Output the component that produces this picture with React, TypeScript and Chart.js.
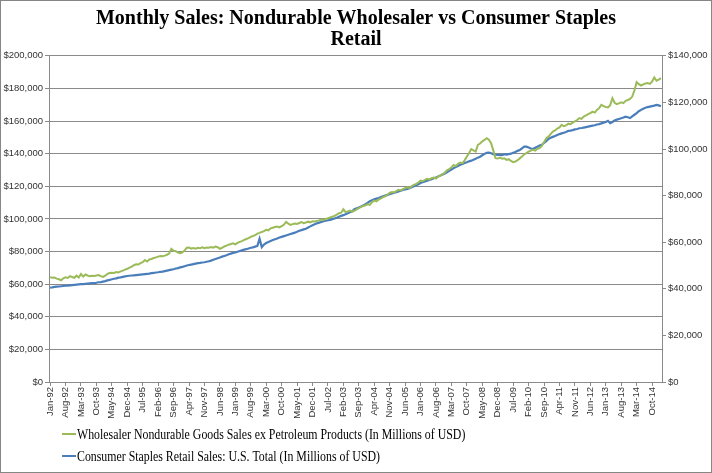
import { useEffect, useRef } from 'react';
import { Chart, registerables } from 'chart.js';

Chart.register(...registerables);

const TITLE = ['Monthly Sales: Nondurable Wholesaler vs Consumer Staples', 'Retail'];
const SERIES_NAMES = [
  'Wholesaler Nondurable Goods Sales ex Petroleum Products (In Millions of USD)',
  'Consumer Staples Retail Sales: U.S. Total (In Millions of USD)',
];
const MONTH_NAMES = ['Jan', 'Feb', 'Mar', 'Apr', 'May', 'Jun', 'Jul', 'Aug', 'Sep', 'Oct', 'Nov', 'Dec'];
const FIRST_YEAR = 1992;
const LABEL_EVERY = 7;

// Left axis (millions of USD), Jan-92 .. Feb-15, one row per year
const wholesaleSales = [
  64300, 63900, 64100, 63400, 63000, 62400, 63600, 64200, 63800, 64900, 64400, 63900,
  65200, 64100, 66200, 64600, 65900, 65300, 64900, 65200, 65000, 65300, 65600, 64900,
  64400, 65200, 66300, 66800, 67000, 66900, 67400, 67200, 67800, 68300, 68900, 69400,
  70100, 70800, 71600, 72200, 72000, 72900, 73500, 74800, 73900, 75100, 75400, 76000,
  76400, 76900, 77300, 77100, 77500, 78000, 78800, 81600, 80500, 80200, 79400, 79000,
  79500, 80700, 82300, 82400, 81800, 82100, 81700, 82300, 82000, 82600, 82100, 82500,
  82300, 82800, 82400, 83000, 82600, 81700, 82300, 83100, 83600, 84200, 84600, 85000,
  84400, 85300, 85900, 86400, 87100, 87700, 88200, 89000, 89500, 90100, 91000, 91400,
  92000, 92500, 93300, 93000, 94200, 94600, 95000, 95300, 94800, 95600, 96400, 98200,
  97100, 96300, 96800, 97200, 96900, 97500, 98000, 97400, 97800, 98300, 97900, 98600,
  98400, 98800, 99100, 99600, 99300, 100000, 100400, 100900, 101300, 101900, 102600, 103500,
  103800, 105900, 104200, 104600, 105100, 104400, 105000, 105800, 106600, 107400, 107900, 108400,
  109000, 108600, 110300, 111200, 110700, 111900, 112600, 113400, 113900, 114800, 115900, 116500,
  116200, 117000, 117800, 117400, 118300, 118900, 119400, 119000, 120100, 120800, 121500, 122300,
  123500, 123100, 124000, 124600, 124200, 125000, 125400, 124800, 126000, 126600, 127500, 128300,
  129800, 130500, 131600, 133100, 132400, 133800, 134600, 134200, 135900, 138200, 140400, 142800,
  142000, 141300, 145400, 146200, 147600, 148400, 149500, 148600, 146400, 142000, 137200, 137000,
  137600, 136900, 137200, 136200, 136600, 135500, 134800, 135200, 136000, 137100, 138200, 139600,
  140300, 141200, 141900, 142300, 141800, 143000, 143400, 144800, 147000, 149500, 150400, 152000,
  153600, 154200, 155400, 156100, 157700, 156800, 157300, 158400, 158100, 159000, 159800, 160600,
  161800, 161300, 162700, 163400, 164200, 164900, 165800, 165200, 166800, 167900, 169900, 169100,
  168600, 168300, 169700, 174000, 171200, 170400, 170800, 171500, 171000, 172400, 172900, 173600,
  175000, 178800, 183900, 182600, 181800, 182500, 183000, 183300, 182800, 184200, 186700, 184700,
  185400, 186300,
];

// Right axis (millions of USD), Jan-92 .. Feb-15, one row per year
const retailSales = [
  40500, 40600, 40800, 40900, 41000, 41100, 41200, 41300, 41400, 41500, 41600, 41700,
  41800, 41900, 42000, 42000, 42100, 42200, 42300, 42400, 42400, 42600, 42800, 42900,
  43100, 43300, 43600, 43800, 44100, 44300, 44500, 44800, 44900, 45100, 45300, 45500,
  45600, 45700, 45800, 45900, 46000, 46100, 46200, 46300, 46400, 46500, 46700, 46800,
  47000, 47100, 47300, 47400, 47600, 47800, 48000, 48200, 48400, 48700, 48900, 49200,
  49400, 49700, 50000, 50200, 50400, 50600, 50800, 51000, 51100, 51300, 51400, 51600,
  51800, 52100, 52500, 52800, 53100, 53400, 53800, 54100, 54400, 54800, 55100, 55400,
  55600, 55900, 56200, 56500, 56800, 57000, 57300, 57600, 57800, 58100, 58400, 61500,
  57900, 59000, 59700, 60100, 60500, 60900, 61300, 61600, 62000, 62300, 62600, 62900,
  63200, 63500, 63800, 64100, 64500, 64900, 65200, 65500, 65800, 66300, 66800, 67300,
  67700, 68100, 68400, 68700, 69000, 69200, 69400, 69600, 69900, 70200, 70500, 70900,
  71300, 71600, 72000, 72400, 72900, 73300, 74200, 74500, 74900, 75300, 75800, 76300,
  76900, 77600, 78000, 78400, 78700, 79000, 79400, 79700, 80000, 80300, 80600, 80900,
  81200, 81500, 81800, 82100, 82400, 82700, 82900, 83200, 83600, 84000, 84400, 84900,
  85400, 85800, 86100, 86400, 86700, 87000, 87400, 87800, 88200, 88600, 89000, 89500,
  90000, 90600, 91200, 91800, 92300, 92700, 93200, 93600, 94000, 94300, 94700, 95000,
  95400, 95800, 96300, 96700, 97300, 97900, 98400, 98500, 98200, 97800, 97600, 97500,
  97500, 97400, 97800, 97600, 97800, 98000, 98400, 98700, 99200, 99600, 100300, 101000,
  101000, 100600, 100200, 100000, 100500, 101000, 101500, 101800, 102600, 103400, 104300, 104800,
  105200, 105600, 106000, 106400, 106700, 107000, 107300, 107800, 107900, 108100, 108400, 108600,
  108900, 109000, 109200, 109400, 109600, 109800, 110000, 110200, 110500, 110700, 111000, 111300,
  111600, 112100, 111100, 111600, 112200, 112600, 112900, 113200, 113500, 113900, 113600, 113300,
  114000, 114700, 115400, 116200, 116800, 117300, 117700, 118000, 118200, 118400, 118600, 118900,
  118700, 118300,
];

const LEFT_MAX = 200000;
const RIGHT_MAX = 140000;
const TICK_STEP = 20000;

const categories: string[] = wholesaleSales.map(
  (_, i) => `${MONTH_NAMES[i % 12]}-${String((FIRST_YEAR + Math.floor(i / 12)) % 100).padStart(2, '0')}`
);

const GREEN = '#9BBB59';
const BLUE = '#4A7EBB';
const GRID = '#8a8a8a';
const TICK_TEXT = '#333333';
const TICK_FONT = { family: '"Liberation Sans", Arial, sans-serif', size: 9.5 };

const money = (v: number | string) => '$' + Number(v).toLocaleString('en-US');

const framePlugin = {
  id: 'frame',
  beforeDraw(chart: any) {
    const { ctx, width, height } = chart;
    ctx.save();
    ctx.fillStyle = '#ffffff';
    ctx.fillRect(0, 0, width, height);
    ctx.restore();
  },
  afterDraw(chart: any) {
    const { ctx, width, height } = chart;
    ctx.save();
    ctx.strokeStyle = '#868686';
    ctx.lineWidth = 1;
    ctx.strokeRect(0.5, 0.5, width - 1, height - 1);
    ctx.restore();
  },
};

const legendPlugin = {
  id: 'leftLegend',
  afterDraw(chart: any) {
    const { ctx } = chart;
    const area = chart.chartArea;
    const colors = [GREEN, BLUE];
    const x0 = area.left + 13;
    const firstY = area.bottom + 52;
    const rowGap = 22;
    ctx.save();
    ctx.font = '15px "Liberation Serif", "Times New Roman", serif';
    ctx.fillStyle = '#000000';
    ctx.textBaseline = 'middle';
    SERIES_NAMES.forEach((name, k) => {
      const y = firstY + k * rowGap;
      ctx.strokeStyle = colors[k];
      ctx.lineWidth = 2;
      ctx.beginPath();
      ctx.moveTo(x0, y);
      ctx.lineTo(x0 + 14, y);
      ctx.stroke();
      ctx.save();
      ctx.translate(x0 + 15, y + 1);
      ctx.scale(0.79, 1);
      ctx.fillText(name, 0, 0);
      ctx.restore();
    });
    ctx.restore();
  },
};

export default function App() {
  const canvasRef = useRef<HTMLCanvasElement | null>(null);

  useEffect(() => {
    const canvas = canvasRef.current;
    if (!canvas) return;
    const chart = new Chart(canvas, {
      type: 'line',
      data: {
        labels: categories,
        datasets: [
          {
            label: SERIES_NAMES[0],
            data: wholesaleSales,
            borderColor: GREEN,
            backgroundColor: GREEN,
            borderWidth: 2,
            pointRadius: 0,
            tension: 0,
            yAxisID: 'y',
          },
          {
            label: SERIES_NAMES[1],
            data: retailSales,
            borderColor: BLUE,
            backgroundColor: BLUE,
            borderWidth: 2.2,
            pointRadius: 0,
            tension: 0,
            yAxisID: 'y1',
          },
        ],
      },
      options: {
        responsive: false,
        animation: false,
        devicePixelRatio: 1,
        layout: { padding: { left: 0, right: 0, top: 0, bottom: 46 } },
        plugins: {
          legend: { display: false },
          tooltip: { enabled: false },
          title: {
            display: true,
            text: TITLE,
            color: '#000000',
            font: { family: '"Liberation Serif", "Times New Roman", serif', size: 20, weight: 'bold', lineHeight: 1.07 },
            padding: { top: 8, bottom: 5 },
          },
        },
        scales: {
          x: {
            type: 'category',
            offset: true,
            grid: { display: true, drawOnChartArea: false, drawTicks: true, tickLength: 4, color: GRID, offset: false },
            border: { display: true, color: GRID },
            ticks: {
              autoSkip: false,
              maxRotation: 90,
              minRotation: 90,
              padding: 1,
              color: TICK_TEXT,
              font: TICK_FONT,
              callback: (_v: any, i: number) => (i % LABEL_EVERY === 0 ? categories[i] : null),
            },
            afterFit: (scale: any) => {
              scale.height = 45;
            },
          },
          y: {
            position: 'left',
            min: 0,
            max: LEFT_MAX,
            grid: { color: GRID, tickLength: 4, drawTicks: true },
            border: { display: true, color: GRID },
            ticks: { stepSize: TICK_STEP, padding: 2, color: TICK_TEXT, font: TICK_FONT, callback: money },
            afterFit: (scale: any) => {
              scale.width = 49;
            },
          },
          y1: {
            position: 'right',
            min: 0,
            max: RIGHT_MAX,
            grid: { drawOnChartArea: false, color: GRID, tickLength: 4, drawTicks: true },
            border: { display: true, color: GRID },
            ticks: { stepSize: TICK_STEP, padding: 2, color: TICK_TEXT, font: TICK_FONT, callback: money },
            afterFit: (scale: any) => {
              scale.width = 50;
            },
          },
        },
      },
      plugins: [framePlugin, legendPlugin],
    });
    return () => chart.destroy();
  }, []);

  return (
    <div style={{ position: 'absolute', left: 0, top: 0, width: 712, height: 473 }}>
      <canvas ref={canvasRef} width={712} height={473} style={{ display: 'block', width: 712, height: 473 }} />
    </div>
  );
}
